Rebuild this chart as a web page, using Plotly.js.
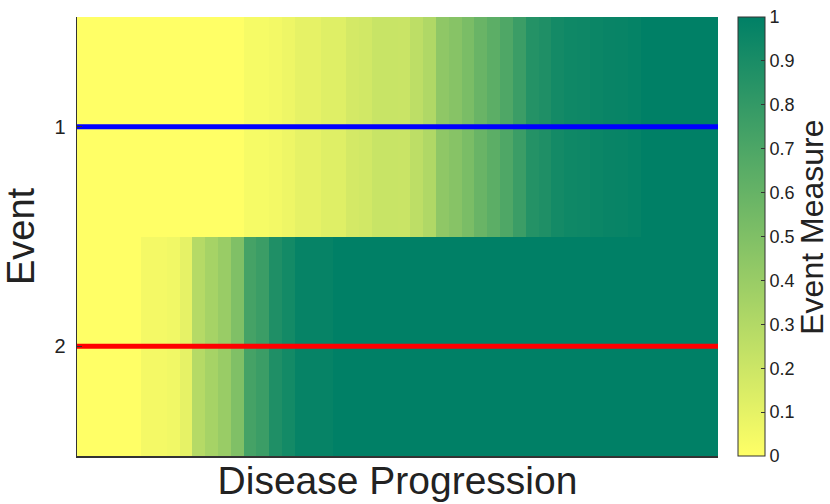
<!DOCTYPE html>
<html>
<head>
<meta charset="utf-8">
<script src="https://cdn.plot.ly/plotly-3.0.1.min.js"></script>
<style>html,body{margin:0;padding:0;background:#fff;}#chart{width:830px;height:504px;}</style>
</head>
<body>
<div id="chart"></div>
<script>
// Event labels (rows) and stage index (columns)
const events = [1, 2];
const stages = Array.from({length: 50}, (_, i) => i + 1);

// Event measure per stage
const event1Values = [
  0,0,0,0,0,0,0,0,0,0,0,0,0,
  0.035,0.035,0.047,0.067,0.10,0.10,0.125,0.125,0.17,0.18,0.215,0.215,
  0.21,0.26,0.31,0.44,0.47,0.52,0.59,0.64,0.69,0.77,0.86,0.88,0.92,0.94,0.945,
  0.955,0.965,0.97,0.98,1,1,1,1,1,1
];
const event2Values = [
  0,0,0,0,0,0.045,0.045,0.055,0.10,0.29,0.35,0.40,0.50,0.73,0.77,0.88,0.925,
  0.975,0.975,0.975,
  1,1,1,1,1,1,1,1,1,1,1,1,1,1,1,1,1,1,1,1,1,1,1,1,1,1,1,1,1,1
];
const eventLineColors = ['#0000ff', '#ff0000'];
const colorbarTicks = [0,0.1,0.2,0.3,0.4,0.5,0.6,0.7,0.8,0.9,1];
const colorbarTickText = ['0','0.1','0.2','0.3','0.4','0.5','0.6','0.7','0.8','0.9','1'];

const font = 'Liberation Sans, Arial, Helvetica, sans-serif';

const heat = {
  type: 'heatmap',
  x: stages,
  y: events,
  z: [event1Values, event2Values],
  zmin: 0, zmax: 1,
  colorscale: [[0, 'rgb(255,255,102)'], [1, 'rgb(0,128,102)']],
  hoverinfo: 'skip',
  colorbar: {
    thickness: 27,
    thicknessmode: 'pixels',
    len: 439,
    lenmode: 'pixels',
    x: 1.031, xanchor: 'left',
    y: 0.5, yanchor: 'middle',
    xpad: 0, ypad: 0,
    outlinewidth: 1,
    outlinecolor: '#333',
    tickvals: colorbarTicks,
    ticktext: colorbarTickText,
    ticks: 'inside',
    ticklen: 4,
    tickcolor: '#333',
    tickfont: {family: font, size: 18, color: '#222'}
  }
};

const xMin = stages[0] - 0.5, xMax = stages[stages.length - 1] + 0.5;
const lines = events.map((ev, i) => ({
  type: 'scatter',
  mode: 'lines',
  x: [xMin, xMax],
  y: [ev, ev],
  line: {color: eventLineColors[i], width: 5},
  hoverinfo: 'skip',
  showlegend: false
}));

const layout = {
  width: 830, height: 504,
  margin: {l: 77, r: 112, t: 17, b: 48},
  paper_bgcolor: '#fff',
  plot_bgcolor: '#fff',
  showlegend: false,
  font: {family: font, color: '#222'},
  xaxis: {
    range: [xMin, xMax],
    showticklabels: false,
    ticks: '',
    showgrid: false,
    zeroline: false,
    showline: true,
    linecolor: '#333',
    linewidth: 1.5,
    title: {text: 'Disease Progression', font: {family: font, size: 39, color: '#222'}, standoff: 10}
  },
  yaxis: {
    range: [events[events.length - 1] + 0.5, events[0] - 0.5],
    tickvals: events,
    ticktext: events.map(String),
    ticks: 'inside',
    ticklen: 5,
    tickcolor: '#333',
    ticklabelstandoff: 6,
    tickfont: {family: font, size: 20, color: '#222'},
    showgrid: false,
    zeroline: false,
    showline: true,
    linecolor: '#333',
    linewidth: 1.5,
    title: {text: 'Event', font: {family: font, size: 38, color: '#222'}, standoff: 10}
  },
  annotations: [{
    text: 'Event Measure',
    xref: 'paper', yref: 'paper',
    x: (812 - 77) / 641, y: 0.52,
    xanchor: 'center', yanchor: 'middle',
    textangle: -90,
    showarrow: false,
    font: {family: font, size: 32, color: '#222'}
  }]
};

Plotly.newPlot('chart', [heat].concat(lines), layout, {displayModeBar: false, staticPlot: true});
</script>
</body>
</html>
